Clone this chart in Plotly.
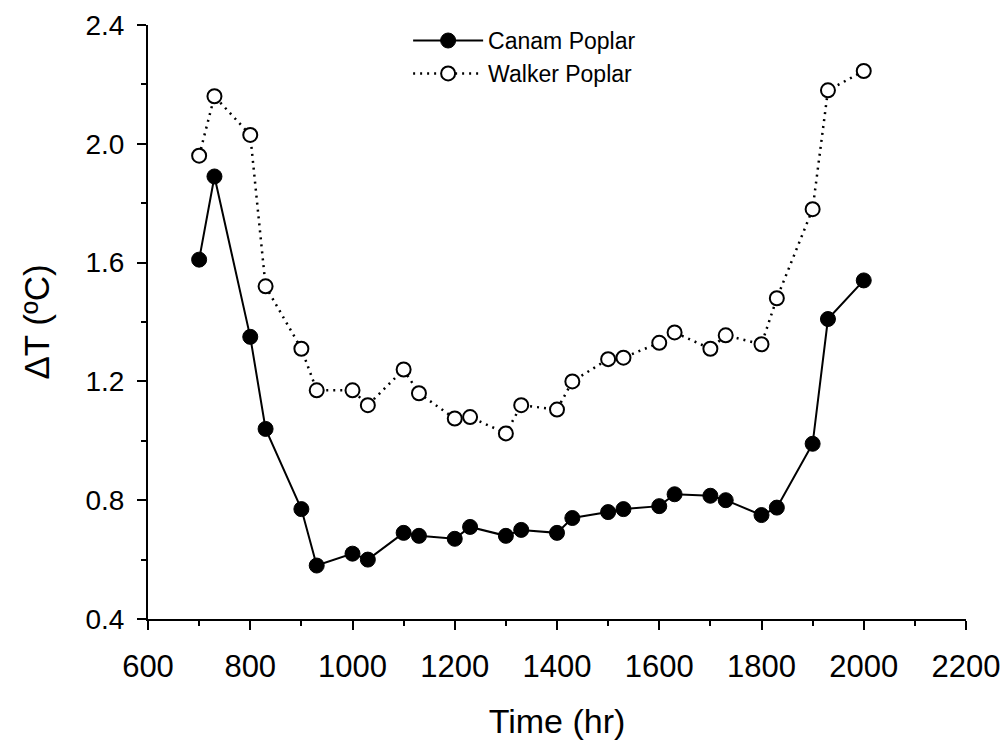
import plotly.graph_objects as go

time_hr = [700, 730, 800, 830, 900, 930, 1000, 1030, 1100, 1130, 1200, 1230, 1300, 1330,
           1400, 1430, 1500, 1530, 1600, 1630, 1700, 1730, 1800, 1830, 1900, 1930, 2000]
canam = [1.61, 1.89, 1.35, 1.04, 0.77, 0.58, 0.62, 0.60, 0.69, 0.68, 0.67, 0.71, 0.68, 0.70,
         0.69, 0.74, 0.76, 0.77, 0.78, 0.82, 0.815, 0.80, 0.75, 0.775, 0.99, 1.41, 1.54]
walker = [1.96, 2.16, 2.03, 1.52, 1.31, 1.17, 1.17, 1.12, 1.24, 1.16, 1.075, 1.08, 1.025, 1.12,
          1.105, 1.20, 1.275, 1.28, 1.33, 1.365, 1.31, 1.355, 1.325, 1.48, 1.78, 2.18, 2.245]
x_ticks = [600, 800, 1000, 1200, 1400, 1600, 1800, 2000, 2200]
y_ticks = [0.4, 0.8, 1.2, 1.6, 2.0, 2.4]

FONT = "Liberation Sans, Arial, sans-serif"

fig = go.Figure()
fig.add_trace(go.Scatter(
    x=time_hr, y=canam, name="Canam Poplar", mode="lines+markers",
    line=dict(color="black", width=2),
    marker=dict(symbol="circle", size=15, color="black", line=dict(color="black", width=1)),
))
fig.add_trace(go.Scatter(
    x=time_hr, y=walker, name="Walker Poplar", mode="lines+markers",
    line=dict(color="black", width=2.5, dash="2px,5px"),
    marker=dict(symbol="circle", size=14, color="white", line=dict(color="black", width=2)),
))

axis_common = dict(
    showgrid=False, zeroline=False, showline=True, linecolor="black", linewidth=2,
    ticks="outside", ticklen=9, tickwidth=2, tickcolor="black",
    mirror=False, automargin=False,
)

fig.update_xaxes(
    range=[600, 2200], tickvals=x_ticks, ticktext=[str(v) for v in x_ticks],
    tickfont=dict(family=FONT, size=31, color="black"), ticklabelstandoff=10,
    minor=dict(ticks="outside", ticklen=5, tickwidth=2, tickcolor="black", dtick=100),
    title=dict(text="Time (hr)", font=dict(family=FONT, size=34, color="black"), standoff=26),
    **axis_common,
)
fig.update_yaxes(
    range=[0.4, 2.4], tickvals=y_ticks, ticktext=[f"{v:.1f}" for v in y_ticks],
    tickfont=dict(family=FONT, size=28, color="black"), ticklabelstandoff=7,
    minor=dict(ticks="outside", ticklen=5, tickwidth=2, tickcolor="black", dtick=0.2),
    title=dict(text="ΔT (ºC)", font=dict(family=FONT, size=35, color="black"), standoff=25),
    **axis_common,
)

fig.update_layout(
    width=1008, height=740,
    margin=dict(l=148, r=42, t=25, b=121),
    plot_bgcolor="white", paper_bgcolor="white",
    font=dict(family=FONT, color="black"),
    legend=dict(
        x=0.318, y=1.01, xanchor="left", yanchor="top",
        font=dict(family=FONT, size=23, color="black"),
        bgcolor="rgba(0,0,0,0)", itemwidth=70, tracegroupgap=0,
    ),
)

fig.write_html("out.html")
